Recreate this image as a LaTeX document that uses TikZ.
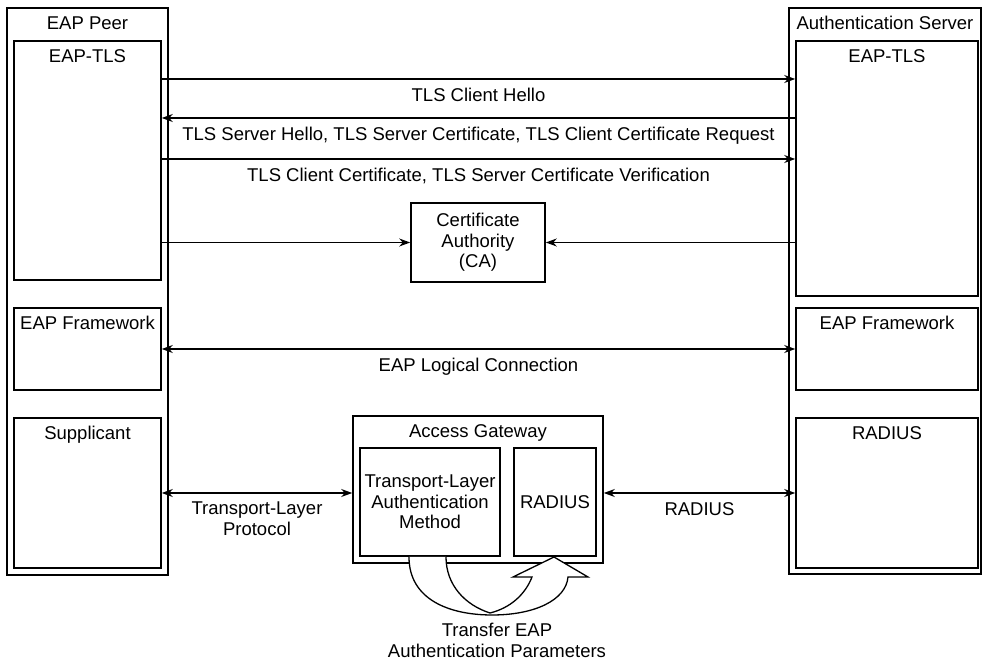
\documentclass[tikz,border=0pt]{standalone}
\usepackage{fontspec}
\setmainfont{Liberation Sans}
\usetikzlibrary{arrows.meta,fit,positioning}

\begin{document}
\begin{tikzpicture}
[
	x=0.5pt, y=-0.5pt,
	font=\fontsize{9.25}{10.25}\selectfont,
	box/.style={draw,line width=0.8pt,inner sep=0pt},
	title/.style={anchor=base,inner sep=0pt},
	msg/.style={line width=0.65pt,>={Stealth[length=5.5pt,width=4pt]}},
	msgtext/.style={anchor=north,inner sep=0pt,yshift=-4.25pt,align=center}
]

	\useasboundingbox (0,0) rectangle (982,663);

	% EAP peer
	\node[box,fit={(7,8) (168,575)}] (peer) {};
	\node[title] at ([yshift=-11pt]peer.north) {EAP Peer};
	\node[box,fit={(14,41) (161,280)}] (peertls) {};
	\node[title] at ([yshift=-11pt]peertls.north) {EAP-TLS};
	\node[box,fit={(14,308) (161,390)}] (peerfw) {};
	\node[title] at ([yshift=-11pt]peerfw.north) {EAP Framework};
	\node[box,fit={(14,418) (161,568)}] (supp) {};
	\node[title] at ([yshift=-11pt]supp.north) {Supplicant};

	% authentication server
	\node[box,fit={(789,8) (981,574)}] (srv) {};
	\node[title] at ([yshift=-11pt]srv.north) {Authentication Server};
	\node[box,fit={(796,41) (978,296)}] (srvtls) {};
	\node[title] at ([yshift=-11pt]srvtls.north) {EAP-TLS};
	\node[box,fit={(796,308) (978,390)}] (srvfw) {};
	\node[title] at ([yshift=-11pt]srvfw.north) {EAP Framework};
	\node[box,fit={(796,418) (978,568)}] (srvrad) {};
	\node[title] at ([yshift=-11pt]srvrad.north) {RADIUS};

	% certificate authority
	\node[box,fit={(411,203) (545,282)}] (ca) {};
	\node[align=center,inner sep=0pt] at (ca.center) {Certificate\\Authority\\(CA)};

	% access gateway
	\node[box,fit={(353,416) (603,563)}] (gw) {};
	\node[title] at ([yshift=-11pt]gw.north) {Access Gateway};
	\node[box,fit={(360,448) (500,556)}] (gwtlam) {};
	\node[align=center,inner sep=0pt] at (gwtlam.center) {Transport-Layer\\Authentication\\Method};
	\node[box,fit={(514,448) (596,556)}] (gwrad) {};
	\node[inner sep=0pt] at (gwrad.center) {RADIUS};

	% TLS handshake
	\coordinate (hello) at (0,79);
	\coordinate (srvhello) at (0,118);
	\coordinate (clientcert) at (0,159);
	\draw[msg,->] (peertls.east |- hello) -- node[msgtext] {TLS Client Hello} (srvtls.west |- hello);
	\draw[msg,->] (srvtls.west |- srvhello) -- node[msgtext] {TLS Server Hello, TLS Server Certificate, TLS Client Certificate Request} (peertls.east |- srvhello);
	\draw[msg,->] (peertls.east |- clientcert) -- node[msgtext] {TLS Client Certificate, TLS Server Certificate Verification} (srvtls.west |- clientcert);

	% to the CA
	\draw[msg,->] (peertls.east |- ca.west) -- (ca.west);
	\draw[msg,->] (srvtls.west |- ca.east) -- (ca.east);

	% EAP and transport
	\draw[msg,<->] (peerfw.east) -- node[msgtext] {EAP Logical Connection} (srvfw.west);
	\draw[msg,<->] (supp.east) -- node[msgtext] {Transport-Layer\\Protocol} (gw.west |- supp.east);
	\draw[msg,<->] (gw.east |- srvrad.west) -- node[msgtext] {RADIUS} (srvrad.west);

	% transfer arrow
	\filldraw[fill=white,line width=0.65pt,line join=miter]
		(409,557) .. controls (409,600) and (450,615) .. (492,615)
		.. controls (535,615) and (566,600) .. (568,577)
		-- (588,577) -- (554,557) -- (513,577) -- (532,577)
		.. controls (525,595) and (510,608) .. (490,613)
		.. controls (465,605) and (446,585) .. (446,557);
	\node[anchor=north,align=center,inner sep=0pt] (xfer) at (497,623) {Transfer EAP\\Authentication Parameters};

\end{tikzpicture}
\end{document}
